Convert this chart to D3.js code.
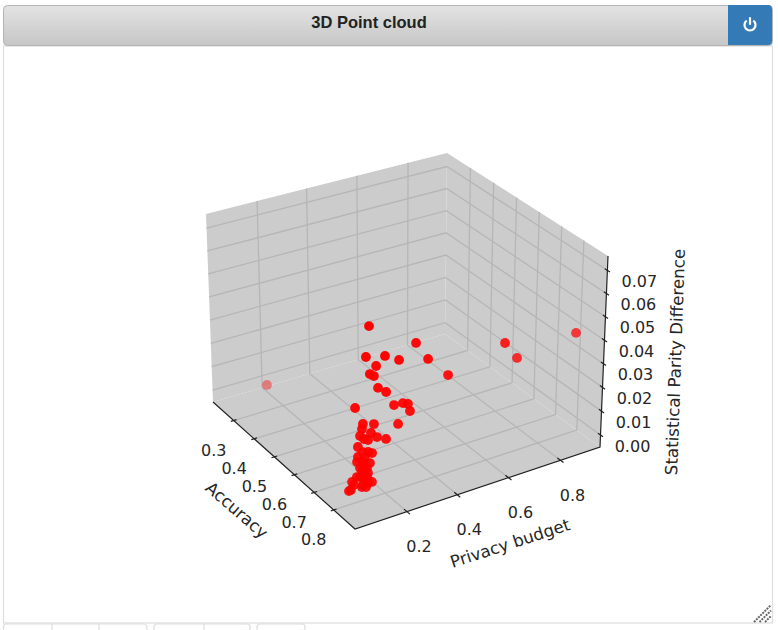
<!DOCTYPE html>
<html><head><meta charset="utf-8">
<script src="https://cdnjs.cloudflare.com/ajax/libs/d3/7.8.5/d3.min.js"></script>
<style>
body{margin:0;background:#fff;overflow:hidden}
svg{display:block}
.tick,.lbl{font-family:"DejaVu Sans";fill:#262626}
</style>
</head><body><svg width="778" height="630"></svg>
<script>
var accuracy=[.84,.86,.83,.85,.86,.87,.84,.87,.82,.83,.84,.85,.80,.85,.86,.86,.86,.85,.83,.82,.82,.81,.83,.84,.85,.82,.83,.81,.82,.84,.83,.81,.81,.83,.84,.82,.82,.83,.82,.84,.82,.83,.81,.85,.84,.83,.84,.83,.80,.81,.80,.80,.82,.83,.83,.87,.87,.89,.27];
var privacyBudget=[.107,.274,.102,.161,.208,.313,.134,.391,.125,.133,.141,.165,.081,.196,.223,.243,.251,.212,.132,.096,.092,.092,.120,.136,.164,.100,.108,.083,.095,.116,.108,.083,.079,.095,.107,.095,.083,.103,.091,.099,.083,.103,.078,.107,.099,.086,.091,.082,.066,.066,.053,.061,.095,.095,.087,.608,.655,.859,.160];
var parityDiff=[.0696,.0586,.0562,.0561,.0536,.0513,.0521,.0420,.0477,.0473,.0428,.0410,.0337,.0346,.0352,.0342,.0310,.0263,.0275,.0280,.0261,.0225,.0242,.0227,.0217,.0217,.0217,.0183,.0165,.0168,.0168,.0142,.0123,.0148,.0130,.0112,.0104,.0104,.0085,.0092,.0068,.0068,.0062,.0060,.0052,.0041,.0038,.0034,.0039,.0034,.0006,.0008,.0125,.0091,.0069,.0482,.0403,.0451,.0027];
var xTicks=[0.3,0.4,0.5,0.6,0.7,0.8], yTicks=[0.2,0.4,0.6,0.8], zTicks=[0,0.01,0.02,0.03,0.04,0.05,0.06,0.07];
var tabGroups=[[3.5,52,99,147],[154,204,250],[257,305]];

var X0=.2,X1=.91,Y0=-.01,Y1=.95,Z0=-.005,Z1=.0762;
var xs=d3.scaleLinear().domain([X0,X1]).range([0,1]),
    ys=d3.scaleLinear().domain([Y0,Y1]).range([0,1]),
    zs=d3.scaleLinear().domain([Z0,Z1]).range([0,1]);

// box corners on screen, index is x + 2*y + 4*z in 0..1 box space
var corners=[[213,402],[355,529],[445,334],[600,447],[206,214],[353,330],[447,153],[608,256]];
// rough perspective weight of each corner
var nearness=[1,1.04,.96,1,1.02,1.06,.98,1.02];
function px(x,y,z){
  var u=xs(x),v=ys(y),t=zs(z),sx=0,sy=0,sw=0;
  corners.forEach(function(c,i){
    var b=((i&1)?u:1-u)*((i&2)?v:1-v)*((i&4)?t:1-t)*nearness[i];
    sx+=b*c[0];sy+=b*c[1];sw+=b;
  });
  return [sx/sw,sy/sw];
}
// toward the viewer = bigger, used for draw order and fading
function depth(x,y,z){return .433*xs(x)-.75*ys(y)+.5*zs(z);}
var fade=d3.scaleLinear().domain([-.05,.05,.25,.4,.7]).range([.38,.72,.85,.92,1]).clamp(true);

var svg=d3.select("svg"),line=d3.line();

// header bar
var grad=svg.append("defs").append("linearGradient").attr("id","bar").attr("x1",0).attr("y1",0).attr("x2",0).attr("y2",1);
grad.append("stop").attr("offset",0).attr("stop-color","#e3e3e3");
grad.append("stop").attr("offset",1).attr("stop-color","#c6c6c6");
svg.append("rect").attr("x",3.5).attr("y",46).attr("width",769).attr("height",577).attr("fill","#fff").attr("stroke","#ddd").attr("stroke-width",1.2);
svg.append("rect").attr("x",3.5).attr("y",5.5).attr("width",769).attr("height",40).attr("rx",4).attr("fill","url(#bar)").attr("stroke","#b4b4b4");
svg.append("text").attr("x",369).attr("y",28).attr("text-anchor","middle").attr("font-family","Liberation Sans").attr("font-weight","bold").attr("font-size",16.5).attr("fill","#222").text("3D Point cloud");
svg.append("path").attr("d","M728 5h40a4 4 0 0 1 4 4v32a4 4 0 0 1 -4 4h-40z").attr("fill","#337ab7");
var icon=svg.append("g").attr("transform","translate(750,25)").attr("fill","none").attr("stroke","#fff").attr("stroke-width",2.2).attr("stroke-linecap","round");
icon.append("path").attr("d",d3.arc()({innerRadius:5.5,outerRadius:5.5,startAngle:.65,endAngle:2*Math.PI-.65}));
icon.append("path").attr("d","M0 -7V-1");

// resize grip
[0,5.5,11].forEach(function(d){
  svg.append("path").attr("d",line([[754+d,622],[771,605+d]])).attr("stroke","#666").attr("stroke-width",2).attr("stroke-dasharray","2 1");
});

// tabs peeking in under the panel
tabGroups.forEach(function(g){
  svg.append("path").attr("d","M"+g[0]+" 630V627a3 3 0 0 1 3 -3H"+(g[g.length-1]-3)+"a3 3 0 0 1 3 3V630").attr("fill","none").attr("stroke","#ddd").attr("stroke-width",1.2);
  g.slice(1,-1).forEach(function(x){
    svg.append("path").attr("d","M"+x+" 624V630").attr("stroke","#ddd").attr("stroke-width",1.2);
  });
});

// panes
[[[X0,Y0,Z0],[X1,Y0,Z0],[X1,Y1,Z0],[X0,Y1,Z0]],
 [[X0,Y0,Z0],[X0,Y1,Z0],[X0,Y1,Z1],[X0,Y0,Z1]],
 [[X0,Y1,Z0],[X1,Y1,Z0],[X1,Y1,Z1],[X0,Y1,Z1]]].forEach(function(f){
  svg.append("path").attr("d",line(f.map(function(a){return px(a[0],a[1],a[2]);}))+"Z").attr("fill","#ccc");
});

// grid
function grid(pts){
  svg.append("path").attr("d",line(pts)).attr("fill","none").attr("stroke","#b6b6b6").attr("stroke-width",1.3);
}
xTicks.forEach(function(t){grid([px(t,Y0,Z0),px(t,Y1,Z0),px(t,Y1,Z1)]);});
yTicks.forEach(function(t){grid([px(X1,t,Z0),px(X0,t,Z0),px(X0,t,Z1)]);});
zTicks.forEach(function(t){grid([px(X0,Y0,t),px(X0,Y1,t),px(X1,Y1,t)]);});

// axis lines and ticks
function ink(pts){
  svg.append("path").attr("d",line(pts)).attr("fill","none").attr("stroke","#222").attr("stroke-width",1.2);
}
ink([px(X0,Y0,Z0),px(X1,Y0,Z0),px(X1,Y1,Z0),px(X1,Y1,Z1)]);
function tickLabel(p,dx,dy,s){
  svg.append("text").attr("class","tick").attr("x",p[0]+dx).attr("y",p[1]+dy).attr("text-anchor","middle").attr("dominant-baseline","central").attr("font-size",16).text(s);
}
var f1=d3.format(".1f"),f2=d3.format(".2f");
xTicks.forEach(function(t){
  ink([px(t,Y0-.012,Z0),px(t,Y0+.012,Z0)]);
  tickLabel(px(t,Y0,Z0),-20,30,f1(t));
});
yTicks.forEach(function(t){
  ink([px(X1+.015,t,Z0),px(X1-.015,t,Z0)]);
  tickLabel(px(X1,t,Z0),12,35,f1(t));
});
zTicks.forEach(function(t){
  ink([px(X1+.012,Y1,t),px(X1-.012,Y1,t)]);
  tickLabel(px(X1,Y1,t),32,11,f2(t));
});

// axis titles
function title(x,y,angle,s){
  svg.append("text").attr("class","lbl").attr("transform","translate("+x+","+y+") rotate("+angle+")").attr("text-anchor","middle").attr("dominant-baseline","central").attr("font-size",16.7).text(s);
}
title(237,510,41,"Accuracy");
title(510,543,-18,"Privacy budget");
title(675,362,-88,"Statistical Parity Difference");

// points, far ones first
var order=d3.range(accuracy.length).sort(function(a,b){
  return depth(accuracy[a],privacyBudget[a],parityDiff[a])-depth(accuracy[b],privacyBudget[b],parityDiff[b]);
});
svg.append("g").selectAll("circle").data(order).join("circle")
  .attr("cx",function(i){return px(accuracy[i],privacyBudget[i],parityDiff[i])[0];})
  .attr("cy",function(i){return px(accuracy[i],privacyBudget[i],parityDiff[i])[1];})
  .attr("r",4.9)
  .attr("fill","#ff0000")
  .attr("fill-opacity",function(i){return fade(depth(accuracy[i],privacyBudget[i],parityDiff[i]));});
</script></body></html>
